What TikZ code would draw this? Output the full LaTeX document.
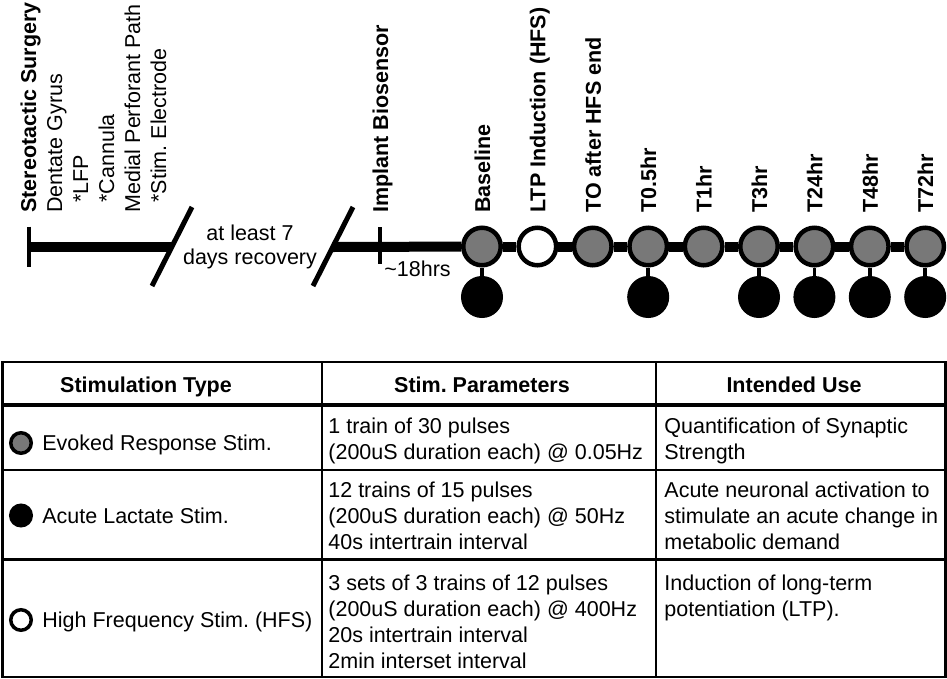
\documentclass[tikz,border=0pt]{standalone}
\usepackage{fontspec}
\setmainfont{Liberation Sans}
\definecolor{evgray}{HTML}{787878}
\newcommand{\diagfont}{\fontsize{21.5}{26}\selectfont}

\begin{document}
\frenchspacing
\begin{tikzpicture}[x=1pt, y=-1pt, thick]
  \tikzstyle{tline} = [line width=10pt]
  \tikzstyle{tick} = [line width=4.5pt]
  \tikzstyle{brk} = [line width=5pt]
  \tikzstyle{stem} = [line width=3.5pt]
  \tikzstyle{vlabel} = [rotate=90, anchor=base west, inner sep=0pt, font=\diagfont\bfseries]
  \tikzstyle{plabel} = [rotate=90, anchor=base west, inner sep=0pt, font=\diagfont]
  \tikzstyle{tpt} = [circle, draw=black, line width=4.5pt, minimum size=37.5pt, inner sep=0pt]
  \tikzstyle{acute} = [tpt, fill=black]
  \tikzstyle{icon} = [circle, draw=black, line width=3.5pt, minimum size=20.5pt, inner sep=0pt]
  \tikzstyle{grid} = [line width=2.5pt]
  \tikzstyle{hdr} = [anchor=base, inner sep=0pt, font=\diagfont\bfseries]
  \tikzstyle{cell} = [anchor=base west, inner sep=0pt, font=\diagfont]

  \useasboundingbox (0,0) rectangle (947,678);

  % surgery
  \node[vlabel] (surg) at (36,213) {Stereotactic Surgery};
  \node[plabel] (dg) at (62,213) {Dentate Gyrus};
  \node[plabel] (lfp) at (88,213) {\hspace*{10pt}*LFP};
  \node[plabel] (can) at (114,213) {\hspace*{10pt}*Cannula};
  \node[plabel] (mpp) at (140,213) {Medial Perforant Path};
  \node[plabel] (stel) at (166,213) {\hspace*{10pt}*Stim. Electrode};

  \coordinate (s0) at (29,247);
  \coordinate (b1) at (171.5,247);
  \coordinate (b2) at (332.5,247);
  \draw[tline] (s0) -- (b1);
  \draw[tick] (29,226.5) -- (29,266.5);
  \draw[brk] (152,286) -- (192,207);
  \draw[brk] (313,286) -- (353,207);
  \node[align=center, inner sep=0pt, font=\fontsize{21.5}{24}\selectfont] (recov) at (250,246.5) {at least 7\\days recovery};

  % biosensor
  \draw[tick] (380,227) -- (380,264);
  \node[vlabel] (impl) at (388,213) {Implant Biosensor};
  \node[cell] (hrs) at (384,276) {\textasciitilde18hrs};

  % time points
  \foreach \lab/\col [count=\i from 0] in {Baseline/evgray, LTP Induction (HFS)/white, TO after HFS end/evgray,
      T0.5hr/evgray, T1hr/evgray, T3hr/evgray, T24hr/evgray, T48hr/evgray, T72hr/evgray} {
    \node[tpt, fill=\col] (t\i) at (482+55.4*\i,246.5) {};
    \node[vlabel] (l\i) at (490+55.4*\i,213) {\lab};
  }
  \draw[tline] (b2) -- (t0);
  \foreach \j [count=\i from 0] in {1,...,8}
    \draw[tline] (t\i) -- (t\j);
  \foreach \i in {0,3,5,6,7,8} {
    \node[acute] (a\i) at (482+55.4*\i,297) {};
    \draw[stem] (t\i) -- (a\i);
  }

  % table
  \draw[grid] (2.5,362) rectangle (945.5,677);
  \draw[line width=4pt] (2.5,404.5) -- (945.5,404.5);
  \draw[grid] (2.5,470) -- (945.5,470);
  \draw[grid] (2.5,559.5) -- (945.5,559.5);
  \draw[grid] (322,362) -- (322,677);
  \draw[grid] (656,362) -- (656,677);

  \node[hdr] (h1) at (146,392) {Stimulation Type};
  \node[hdr] (h2) at (482,392) {Stim. Parameters};
  \node[hdr] (h3) at (794,392) {Intended Use};

  \node[icon, fill=evgray] (k1) at (21,443) {};
  \node[cell] (k1t) at (42,450) {Evoked Response Stim.};
  \node[icon, fill=black] (k2) at (21,515.5) {};
  \node[cell] (k2t) at (42,523) {Acute Lactate Stim.};
  \node[icon, fill=white] (k3) at (21,620) {};
  \node[cell] (k3t) at (42,627) {High Frequency Stim. (HFS)};

  \foreach \txt [count=\k] in {1 train of 30 pulses, (200uS duration each) @ 0.05Hz}
    \node[cell] (p1-\k) at (328,407+26*\k) {\txt};
  \foreach \txt [count=\k] in {12 trains of 15 pulses, (200uS duration each) @ 50Hz, 40s intertrain interval}
    \node[cell] (p2-\k) at (328,471+26*\k) {\txt};
  \foreach \txt [count=\k] in {3 sets of 3 trains of 12 pulses, (200uS duration each) @ 400Hz,
      20s intertrain interval, 2min interset interval}
    \node[cell] (p3-\k) at (328,564+26*\k) {\txt};

  \foreach \txt [count=\k] in {Quantification of Synaptic, Strength}
    \node[cell] (u1-\k) at (664,407+26*\k) {\txt};
  \foreach \txt [count=\k] in {Acute neuronal activation to, stimulate an acute change in, metabolic demand}
    \node[cell] (u2-\k) at (664,471+26*\k) {\txt};
  \foreach \txt [count=\k] in {Induction of long-term, potentiation (LTP).}
    \node[cell] (u3-\k) at (664,564+26*\k) {\txt};
\end{tikzpicture}
\end{document}
